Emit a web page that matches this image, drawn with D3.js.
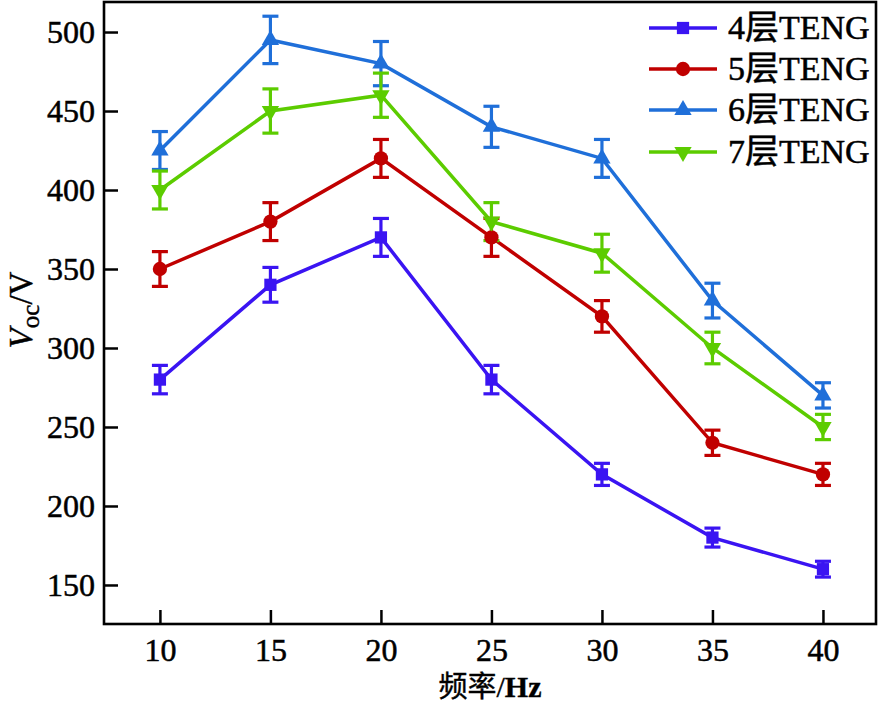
<!DOCTYPE html>
<html>
<head>
<meta charset="utf-8">
<script src="https://cdn.jsdelivr.net/npm/d3@7"></script>
<style>
  html, body { margin: 0; padding: 0; background: #fff; }
  svg { display: block; }
  text { font-family: "Liberation Serif", "Noto Sans CJK SC", serif; fill: #000; }
</style>
</head>
<body>
<div id="chart"></div>
<script>
const freqs = [10, 15, 20, 25, 30, 35, 40];
const xTicks = [10, 15, 20, 25, 30, 35, 40];
const yTicks = [150, 200, 250, 300, 350, 400, 450, 500];

const names = ["4层TENG", "5层TENG", "6层TENG", "7层TENG"];
const colors = ["#3a14f2", "#c00000", "#1f6fd9", "#5ccc00"];
const symbols = ["square", "circle", "triangle", "triangleDown"];

const v4 = [280, 340, 370, 280, 220, 180, 160];
const e4 = [9, 11, 12, 9, 7, 6, 5];
const v5 = [350, 380, 420, 370, 320, 240, 220];
const e5 = [11, 12, 12, 12, 10, 8, 7];
const v6 = [425, 495, 480, 440, 420, 330, 270];
const e6 = [12, 15, 14, 13, 12, 11, 8];
const v7 = [400, 450, 460, 380, 360, 300, 250];
const e7 = [12, 14, 14, 12, 12, 10, 8];

const seriesValues = [v4, v5, v6, v7];
const seriesErrors = [e4, e5, e6, e7];

const width = 879, height = 705;
const margin = { top: 2, right: 3, bottom: 81, left: 104 };
const innerW = width - margin.left - margin.right;
const innerH = height - margin.top - margin.bottom;

const series = names.map((name, i) => ({
  name,
  color: colors[i],
  symbol: symbols[i],
  points: freqs.map((f, j) => ({ x: f, y: seriesValues[i][j], e: seriesErrors[i][j] })),
}));

const svg = d3.select("#chart").append("svg")
  .attr("width", width).attr("height", height);
const g = svg.append("g").attr("transform", `translate(${margin.left},${margin.top})`);

const x = d3.scaleLinear().domain([7.47, 42.4]).range([0, innerW]);
const y = d3.scaleLinear().domain([125.3, 519]).range([innerH, 0]);

function symbolPath(kind) {
  if (kind === "square") return d3.symbol(d3.symbolSquare, 150)();
  if (kind === "circle") return d3.symbol(d3.symbolCircle, 160)();
  return d3.symbol(d3.symbolTriangle, 130)();
}

// axes
const gx = g.append("g").attr("transform", `translate(0,${innerH})`)
  .call(d3.axisBottom(x).tickValues(xTicks).tickSizeInner(-14).tickSizeOuter(0).tickPadding(14));
const gy = g.append("g")
  .call(d3.axisLeft(y).tickValues(yTicks).tickSizeInner(-14).tickSizeOuter(0).tickPadding(9));

[gx, gy].forEach((a) => {
  a.select(".domain").remove();
  a.selectAll("line").attr("stroke", "#000").attr("stroke-width", 2.5);
  a.selectAll("text").attr("font-size", 32).attr("font-family", "Liberation Serif")
    .attr("stroke", "#000").attr("stroke-width", 0.5);
});

g.append("rect")
  .attr("x", 0).attr("y", 0).attr("width", innerW).attr("height", innerH)
  .attr("fill", "none").attr("stroke", "#000").attr("stroke-width", 2.6);

// lines
const line = d3.line().x((d) => x(d.x)).y((d) => y(d.y));
series.forEach((s) => {
  g.append("path").datum(s.points)
    .attr("d", line).attr("fill", "none")
    .attr("stroke", s.color).attr("stroke-width", 3.5);
});

// error bars
series.forEach((s) => {
  const eb = g.append("g").attr("stroke", s.color).attr("stroke-width", 3.2);
  s.points.forEach((p) => {
    const cx = x(p.x), y0 = y(p.y - p.e), y1 = y(p.y + p.e);
    eb.append("line").attr("x1", cx).attr("x2", cx).attr("y1", y0).attr("y2", y1);
    eb.append("line").attr("x1", cx - 8).attr("x2", cx + 8).attr("y1", y0).attr("y2", y0);
    eb.append("line").attr("x1", cx - 8).attr("x2", cx + 8).attr("y1", y1).attr("y2", y1);
  });
});

// markers
series.forEach((s) => {
  g.append("g").selectAll("path").data(s.points).join("path")
    .attr("d", symbolPath(s.symbol))
    .attr("transform", (d) => `translate(${x(d.x)},${y(d.y)})${s.symbol === "triangleDown" ? " rotate(180)" : ""}`)
    .attr("fill", s.color);
});

// axis titles
const xt = svg.append("text")
  .attr("x", 490).attr("y", 697).attr("text-anchor", "middle").attr("font-size", 30)
  .attr("stroke", "#000").attr("stroke-width", 0.4);
xt.append("tspan").attr("font-family", "Noto Sans CJK SC").attr("font-size", 29).text("频率");
xt.append("tspan").text("/");
xt.append("tspan").attr("font-weight", "bold").text("Hz");

const yt = svg.append("text")
  .attr("transform", "translate(32,310) rotate(-90)")
  .attr("text-anchor", "middle").attr("font-size", 33)
  .attr("stroke", "#000").attr("stroke-width", 0.4);
yt.append("tspan").attr("font-style", "italic").text("V");
yt.append("tspan").attr("font-size", 25).attr("dy", 7).text("oc");
yt.append("tspan").attr("dy", -7).text("/V");

// legend
const legendRows = [28, 69, 110, 152];
const legend = svg.append("g");
series.forEach((s, i) => {
  const row = legend.append("g").attr("transform", `translate(0,${legendRows[i]})`);
  row.append("line").attr("x1", 649).attr("x2", 717).attr("y1", 0).attr("y2", 0)
    .attr("stroke", s.color).attr("stroke-width", 3.5);
  row.append("path").attr("d", symbolPath(s.symbol))
    .attr("transform", `translate(683,0)${s.symbol === "triangleDown" ? " rotate(180)" : ""}`)
    .attr("fill", s.color);
  row.append("text").attr("x", 728).attr("y", 11).attr("font-size", 34)
    .attr("stroke", "#000").attr("stroke-width", 0.5).text(s.name);
});
</script>
</body>
</html>
